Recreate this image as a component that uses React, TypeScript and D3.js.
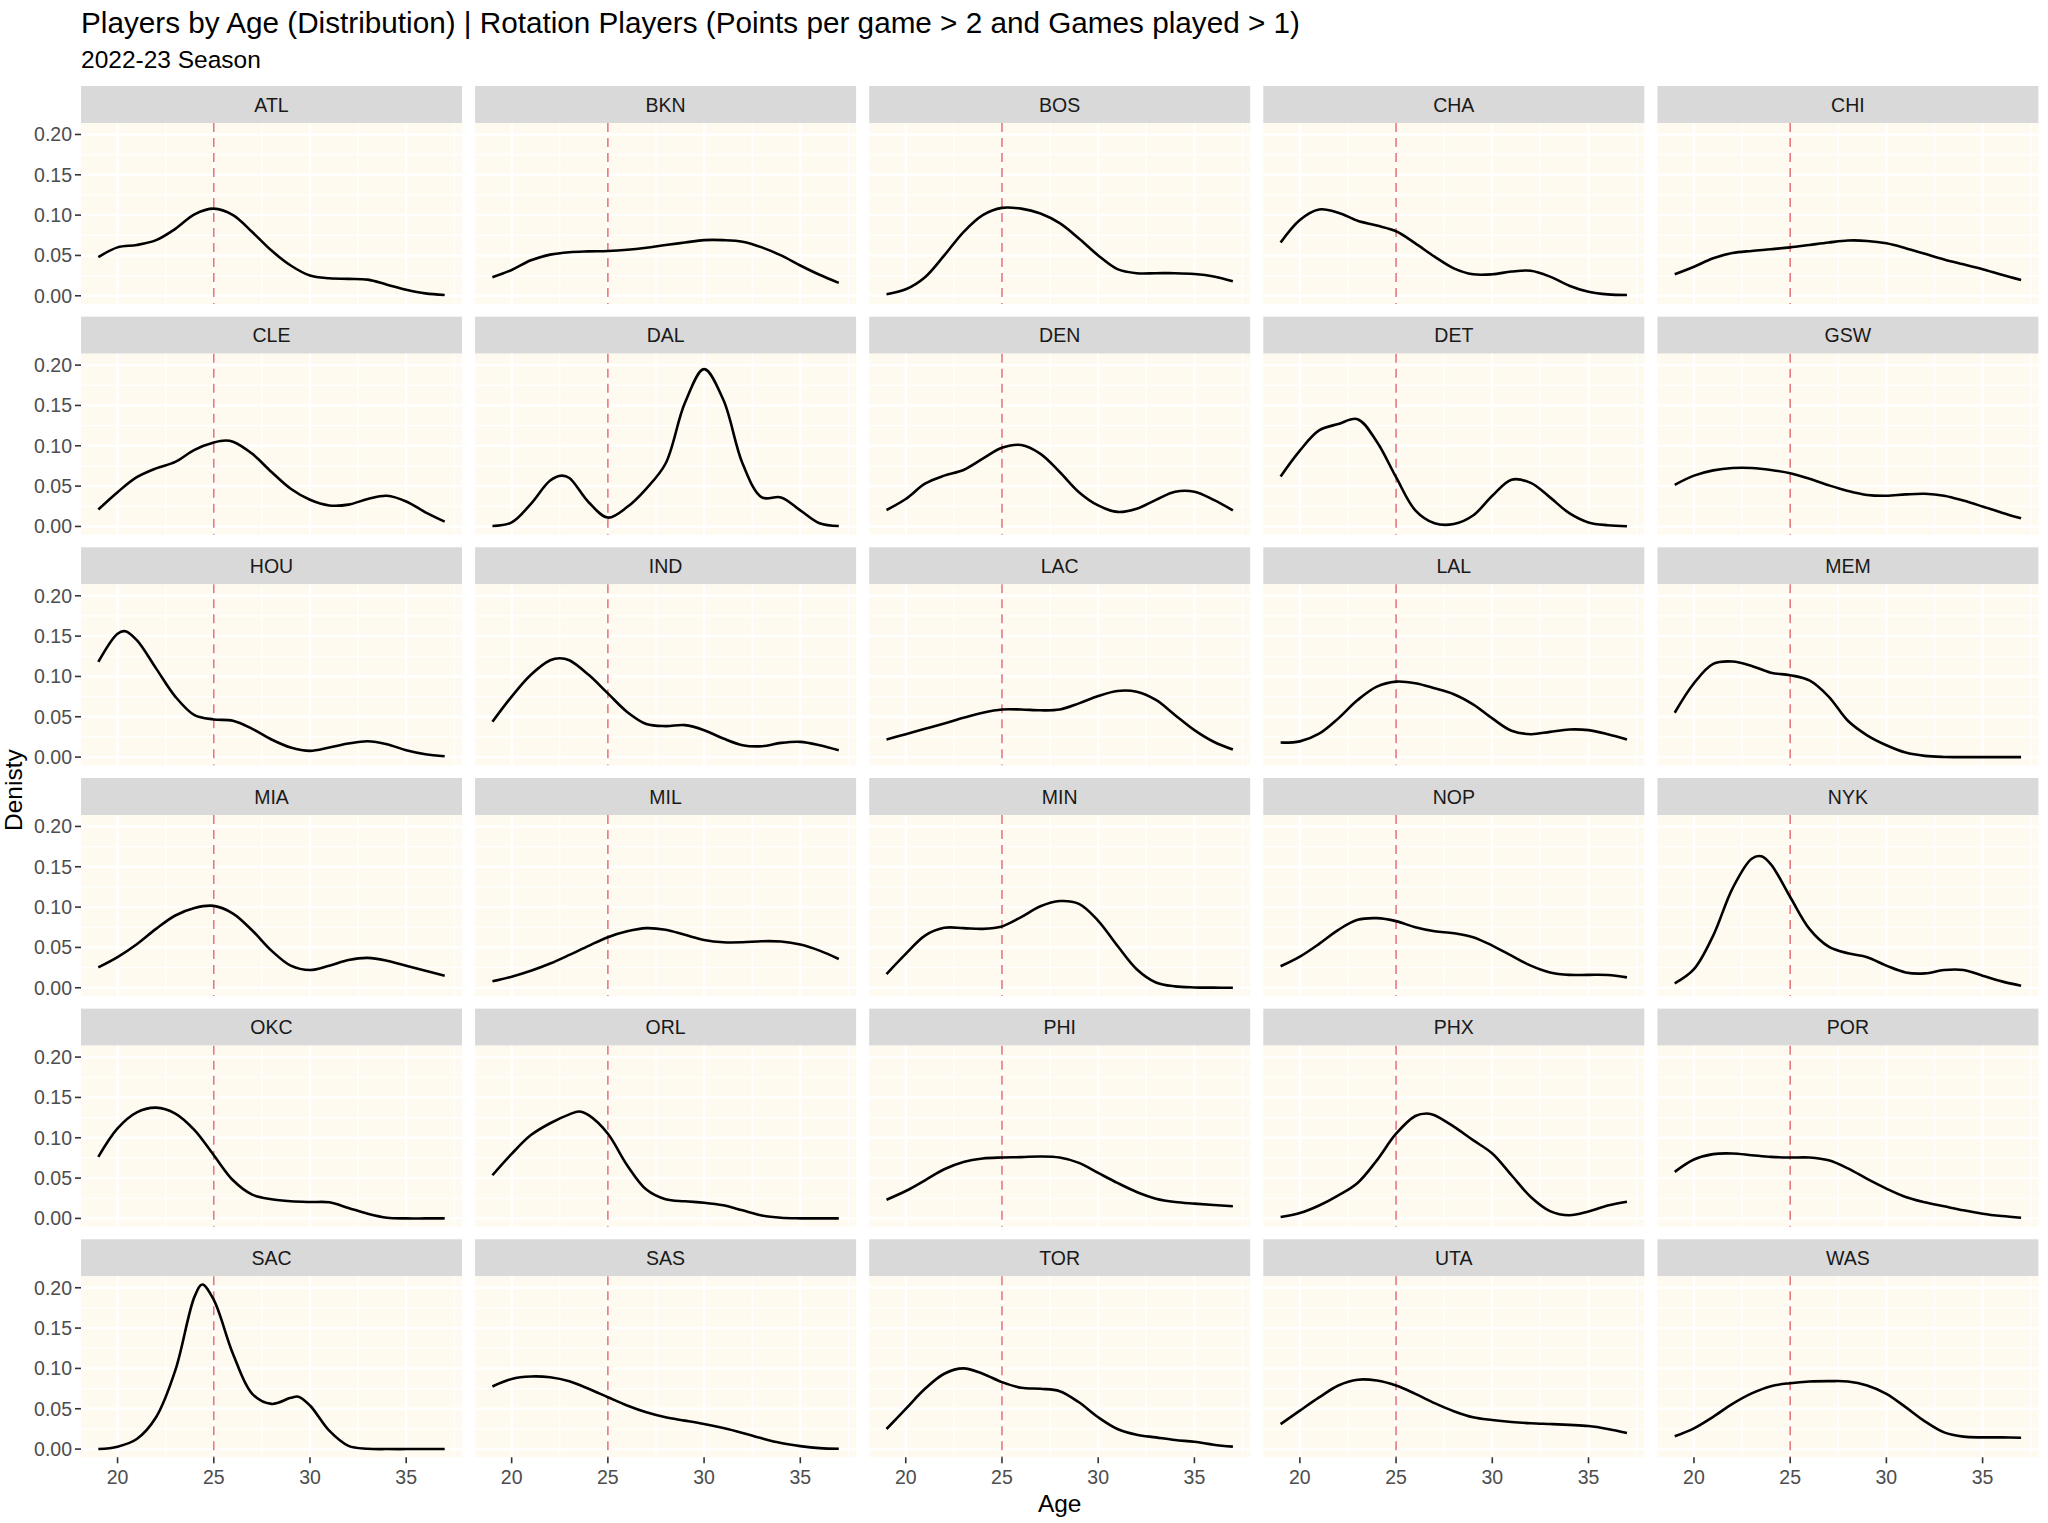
import React from "react";
import * as d3 from "d3";

// ---------------- DATA ----------------
const TITLE = "Players by Age (Distribution) | Rotation Players (Points per game > 2 and Games played > 1)";
const SUBTITLE = "2022-23 Season";
const X_LABEL = "Age";
const Y_LABEL = "Denisty";

const TEAMS = ["ATL","BKN","BOS","CHA","CHI","CLE","DAL","DEN","DET","GSW","HOU","IND","LAC","LAL","MEM","MIA","MIL","MIN","NOP","NYK","OKC","ORL","PHI","PHX","POR","SAC","SAS","TOR","UTA","WAS"];

const AGES = [19,20,21,22,23,24,25,26,27,28,29,30,31,32,33,34,35,36,37];
const REF_AGE = 25;
const X_TICKS = [20, 25, 30, 35];
const Y_TICKS = [0, 0.05, 0.1, 0.15, 0.2];

const ATL = [0.048,0.060,0.063,0.069,0.083,0.101,0.108,0.100,0.079,0.056,0.0375,0.025,0.0217,0.021,0.020,0.0138,0.0075,0.003,0.001];
const BKN = [0.023,0.032,0.044,0.051,0.054,0.055,0.0555,0.057,0.0596,0.063,0.066,0.069,0.069,0.067,0.060,0.050,0.0375,0.026,0.016];
const BOS = [0.002,0.008,0.023,0.050,0.079,0.100,0.109,0.108,0.102,0.090,0.071,0.050,0.033,0.028,0.028,0.028,0.027,0.024,0.018];
const CHA = [0.066,0.094,0.107,0.103,0.093,0.087,0.080,0.065,0.0485,0.034,0.0266,0.0266,0.030,0.031,0.0237,0.0125,0.005,0.0017,0.001];
const CHI = [0.0266,0.036,0.0465,0.053,0.0556,0.0577,0.060,0.063,0.066,0.0685,0.068,0.065,0.059,0.052,0.045,0.039,0.033,0.026,0.0195];
const CLE = [0.021,0.0425,0.061,0.072,0.080,0.095,0.104,0.105,0.090,0.0675,0.0467,0.033,0.026,0.027,0.034,0.038,0.031,0.0175,0.006];
const DAL = [0.0005,0.005,0.028,0.057,0.060,0.030,0.011,0.024,0.047,0.078,0.153,0.195,0.157,0.078,0.036,0.036,0.020,0.004,0.0005];
const DEN = [0.0204,0.034,0.053,0.063,0.070,0.084,0.0975,0.101,0.090,0.0675,0.0425,0.026,0.018,0.022,0.033,0.043,0.043,0.033,0.020];
const DET = [0.062,0.094,0.119,0.127,0.133,0.105,0.061,0.020,0.004,0.003,0.0135,0.038,0.058,0.054,0.036,0.0165,0.005,0.0015,0.0003];
const GSW = [0.0516,0.063,0.0695,0.0724,0.0724,0.070,0.066,0.059,0.051,0.044,0.039,0.038,0.0397,0.0405,0.038,0.032,0.0247,0.017,0.010];
const HOU = [0.118,0.153,0.145,0.110,0.075,0.052,0.0467,0.045,0.035,0.0218,0.0118,0.0077,0.0118,0.0168,0.0197,0.016,0.0085,0.0035,0.001];
const IND = [0.0438,0.075,0.102,0.120,0.120,0.102,0.079,0.056,0.041,0.0384,0.0396,0.0334,0.023,0.0148,0.0135,0.0176,0.0189,0.0148,0.0085];
const LAC = [0.0218,0.0284,0.035,0.0417,0.0488,0.055,0.059,0.059,0.058,0.059,0.0666,0.0757,0.082,0.081,0.0708,0.052,0.0334,0.019,0.0093];
const LAL = [0.018,0.0195,0.029,0.048,0.0707,0.0874,0.0936,0.0915,0.0853,0.078,0.0654,0.048,0.0326,0.0284,0.0313,0.0342,0.0334,0.0284,0.0218];
const MEM = [0.055,0.0915,0.1155,0.1185,0.113,0.1046,0.1015,0.095,0.075,0.045,0.027,0.0147,0.0056,0.0015,0.0002,0,0,0,0];
const MIA = [0.0253,0.038,0.054,0.073,0.0896,0.099,0.1015,0.092,0.071,0.046,0.0274,0.022,0.0274,0.0344,0.037,0.0336,0.0274,0.0212,0.015];
const MIL = [0.008,0.0137,0.021,0.030,0.0407,0.052,0.0627,0.070,0.0739,0.0718,0.0656,0.0593,0.0564,0.0564,0.0577,0.0573,0.0535,0.046,0.0357];
const MIN = [0.017,0.042,0.0647,0.0743,0.0739,0.073,0.076,0.0876,0.101,0.1075,0.104,0.083,0.052,0.023,0.0066,0.0017,0.0004,0.0001,0];
const NOP = [0.0266,0.0386,0.0544,0.0718,0.0842,0.0863,0.0826,0.075,0.070,0.0676,0.0627,0.0523,0.0398,0.0274,0.019,0.016,0.016,0.0158,0.0129];
const NYK = [0.0054,0.023,0.0647,0.123,0.160,0.153,0.1125,0.073,0.051,0.0427,0.0378,0.0274,0.019,0.0178,0.022,0.022,0.015,0.0079,0.0025];
const OKC = [0.0763,0.1116,0.1315,0.1373,0.130,0.1095,0.0784,0.0473,0.0295,0.0237,0.0212,0.0203,0.020,0.013,0.0058,0.0008,0,0,0];
const ORL = [0.0535,0.080,0.1033,0.118,0.129,0.128,0.105,0.066,0.0357,0.0237,0.0212,0.0195,0.0162,0.010,0.0037,0.0008,0.0001,0,0];
const PHI = [0.0232,0.034,0.0473,0.061,0.070,0.0743,0.0755,0.076,0.0768,0.0755,0.0689,0.0564,0.044,0.0328,0.0245,0.0203,0.0183,0.0166,0.015];
const PHX = [0.0017,0.0066,0.016,0.0286,0.044,0.072,0.105,0.127,0.128,0.1137,0.097,0.0805,0.0535,0.0266,0.0091,0.0040,0.0087,0.016,0.0207];
const POR = [0.0577,0.073,0.0797,0.0805,0.0784,0.0763,0.0755,0.0755,0.072,0.062,0.049,0.037,0.0266,0.020,0.015,0.010,0.0058,0.0029,0.0008];
const SAC = [0,0.003,0.0125,0.0394,0.0975,0.189,0.185,0.118,0.0685,0.056,0.0635,0.054,0.0228,0.004,0.0004,0,0,0,0];
const SAS = [0.0776,0.087,0.090,0.089,0.084,0.0747,0.0643,0.054,0.0456,0.0394,0.0353,0.031,0.026,0.020,0.0133,0.0075,0.0037,0.0012,0.0004];
const TOR = [0.0249,0.0498,0.0747,0.0934,0.100,0.0934,0.083,0.076,0.0747,0.0718,0.058,0.0394,0.0249,0.0178,0.0145,0.0112,0.009,0.0054,0.003];
const UTA = [0.031,0.0477,0.064,0.0788,0.086,0.085,0.0788,0.0685,0.057,0.047,0.0394,0.036,0.0336,0.032,0.031,0.030,0.0286,0.025,0.020];
const WAS = [0.0158,0.0257,0.040,0.056,0.069,0.078,0.0817,0.0838,0.0842,0.0838,0.0788,0.0685,0.052,0.0344,0.0207,0.0154,0.0145,0.0145,0.0141];

// peaks that fall between the yearly samples: [team, age, density]
const PEAK_POINTS: [string, number, number][] = [
  ["DAL", 22.6, 0.063],
  ["HOU", 20.4, 0.156],
  ["IND", 22.5, 0.1226],
  ["NYK", 23.5, 0.163],
  ["ORL", 23.5, 0.1325],
  ["SAC", 24.4, 0.204],
  ["SAC", 29.4, 0.065],
  ["PHX", 26.6, 0.130],
  ["CLE", 25.6, 0.1065],
];

const SERIES = [ATL,BKN,BOS,CHA,CHI,CLE,DAL,DEN,DET,GSW,HOU,IND,LAC,LAL,MEM,MIA,MIL,MIN,NOP,NYK,OKC,ORL,PHI,PHX,POR,SAC,SAS,TOR,UTA,WAS];

// ---------------- LAYOUT ----------------
const W = 2048, H = 1523;
const NCOL = 5;
const PANEL_LEFT = 81, PANEL_W = 381, COL_PITCH = 394.1;
const STRIP_TOP = 86, STRIP_H = 37, PANEL_H = 181, ROW_PITCH = 230.66;
const FONT = "'Liberation Sans', Arial, Helvetica, sans-serif";
const TICK_FS = 19.5;
const STRIP_FS = 19.5;

export default function App() {
  const xExt = d3.extent(AGES) as [number, number];
  const xPad = (xExt[1] - xExt[0]) * 0.05;
  const x = d3.scaleLinear().domain([xExt[0] - xPad, xExt[1] + xPad]).range([0, PANEL_W]);
  const allVals = SERIES.flat().concat(PEAK_POINTS.map(p => p[2]));
  const yMax = d3.max(allVals) as number;
  const y = d3.scaleLinear().domain([-0.05 * yMax, 1.05 * yMax]).range([PANEL_H, 0]);

  const xStep = X_TICKS[1] - X_TICKS[0];
  const xMinor: number[] = [];
  for (let v = X_TICKS[0] - xStep / 2; v <= x.domain()[1] + 1e-9; v += xStep) if (v >= x.domain()[0]) xMinor.push(v);
  const yStep = Y_TICKS[1] - Y_TICKS[0];
  const yMinor: number[] = [];
  for (let v = Y_TICKS[0] - yStep / 2; v <= y.domain()[1] + 1e-9; v += yStep) if (v >= y.domain()[0]) yMinor.push(v);

  const line = d3.line<[number, number]>().x(d => x(d[0])).y(d => y(Math.max(0, d[1]))).curve(d3.curveCatmullRom.alpha(0.5));
  const fmt = d3.format(".2f");
  const nrow = Math.ceil(TEAMS.length / NCOL);

  const panels = TEAMS.map((team, i) => {
    const col = i % NCOL, row = Math.floor(i / NCOL);
    const px = PANEL_LEFT + col * COL_PITCH;
    const st = STRIP_TOP + row * ROW_PITCH;
    const py = st + STRIP_H;
    const pts: [number, number][] = AGES.map((a, k) => [a, SERIES[i][k]] as [number, number])
      .concat(PEAK_POINTS.filter(p => p[0] === team).map(p => [p[1], p[2]] as [number, number]))
      .sort((a, b) => a[0] - b[0]);
    return (
      <g key={team}>
        <rect x={px} y={st} width={PANEL_W} height={STRIP_H} fill="#D9D9D9" />
        <text x={px + PANEL_W / 2} y={st + STRIP_H / 2} dy="0.36em" textAnchor="middle" fontSize={STRIP_FS} fill="#1A1A1A" fontFamily={FONT}>{team}</text>
        <g transform={`translate(${px},${py})`}>
          <rect x={0} y={0} width={PANEL_W} height={PANEL_H} fill="#FFFAF0" />
          {xMinor.map(v => <line key={"xm" + v} x1={x(v)} x2={x(v)} y1={0} y2={PANEL_H} stroke="#FFFFFF" strokeWidth={1.2} />)}
          {yMinor.map(v => <line key={"ym" + v} x1={0} x2={PANEL_W} y1={y(v)} y2={y(v)} stroke="#FFFFFF" strokeWidth={1.2} />)}
          {X_TICKS.map(v => <line key={"xM" + v} x1={x(v)} x2={x(v)} y1={0} y2={PANEL_H} stroke="#FFFFFF" strokeWidth={2.4} />)}
          {Y_TICKS.map(v => <line key={"yM" + v} x1={0} x2={PANEL_W} y1={y(v)} y2={y(v)} stroke="#FFFFFF" strokeWidth={2.4} />)}
          <line x1={x(REF_AGE)} x2={x(REF_AGE)} y1={0} y2={PANEL_H} stroke="#E5797F" strokeWidth={1.6} strokeDasharray="9,6" />
          <path d={line(pts) || ""} fill="none" stroke="#000000" strokeWidth={2.6} strokeLinejoin="round" />
          {col === 0 && Y_TICKS.map(v => (
            <g key={"yt" + v}>
              <line x1={-6} x2={0} y1={y(v)} y2={y(v)} stroke="#333333" strokeWidth={1.6} />
              <text x={-9} y={y(v)} dy="0.36em" textAnchor="end" fontSize={TICK_FS} fill="#4D4D4D" fontFamily={FONT}>{fmt(v)}</text>
            </g>
          ))}
          {row === nrow - 1 && X_TICKS.map(v => (
            <g key={"xt" + v}>
              <line x1={x(v)} x2={x(v)} y1={PANEL_H} y2={PANEL_H + 6} stroke="#333333" strokeWidth={1.6} />
              <text x={x(v)} y={PANEL_H + 27} textAnchor="middle" fontSize={TICK_FS} fill="#4D4D4D" fontFamily={FONT}>{v}</text>
            </g>
          ))}
        </g>
      </g>
    );
  });

  const gridLeft = PANEL_LEFT, gridRight = PANEL_LEFT + (NCOL - 1) * COL_PITCH + PANEL_W;
  const firstPanelTop = STRIP_TOP + STRIP_H;
  const lastPanelBottom = STRIP_TOP + (nrow - 1) * ROW_PITCH + STRIP_H + PANEL_H;

  return (
    <svg width={W} height={H} viewBox={`0 0 ${W} ${H}`} style={{ position: "absolute", left: 0, top: 0, display: "block", background: "#FFFFFF" }}>
      <rect x={0} y={0} width={W} height={H} fill="#FFFFFF" />
      <text x={PANEL_LEFT} y={33} fontSize={29.7} fill="#000000" fontFamily={FONT}>{TITLE}</text>
      <text x={PANEL_LEFT} y={68} fontSize={24.5} fill="#000000" fontFamily={FONT}>{SUBTITLE}</text>
      {panels}
      <text x={(gridLeft + gridRight) / 2} y={1512} textAnchor="middle" fontSize={24.5} fill="#000000" fontFamily={FONT}>{X_LABEL}</text>
      <text transform={`translate(22,${(firstPanelTop + lastPanelBottom) / 2}) rotate(-90)`} textAnchor="middle" fontSize={24.5} fill="#000000" fontFamily={FONT}>{Y_LABEL}</text>
    </svg>
  );
}
